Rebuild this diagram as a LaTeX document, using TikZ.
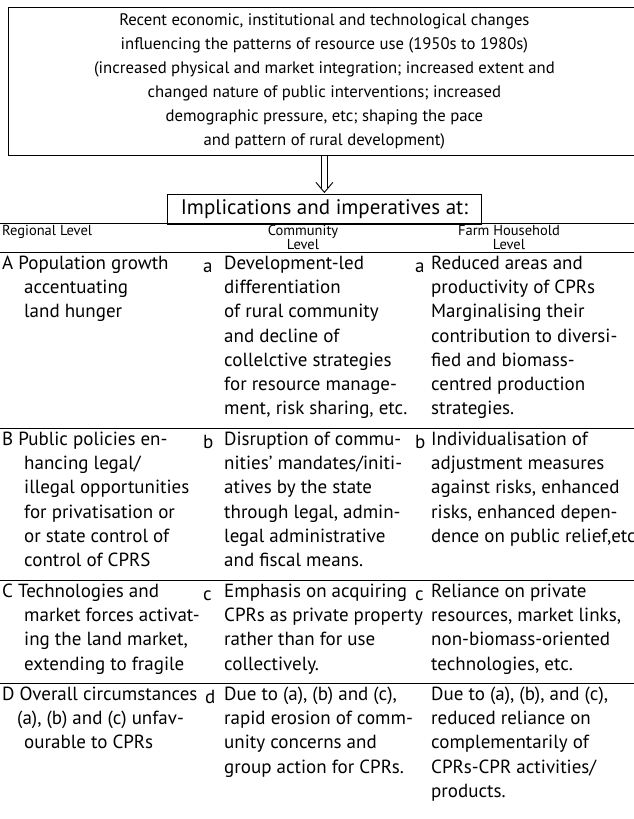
\documentclass[tikz,border=0pt]{standalone}
\usepackage{fontspec}
\setmainfont{PT Sans}
\usetikzlibrary{arrows.meta,positioning}
\newcommand\cellind{\hspace*{22pt}}

\begin{document}
\begin{tikzpicture}[x=1pt, y=-1pt, every node/.style={inner sep=0pt}, cell/.style={anchor=north west,align=left,font=\fontsize{19pt}{24.3pt}\selectfont,execute at begin node=\strut}, tag/.style={cell}, head/.style={anchor=north,align=center,font=\fontsize{14.5pt}{14pt}\selectfont}, frame/.style={draw,line width=0.8pt}, rule/.style={line width=0.8pt}, dbl/.style={double,double distance=4.5pt,line width=0.9pt}]
\useasboundingbox (0,0) rectangle (634,819);
\node[frame,anchor=north west,minimum width=632,minimum height=148,align=center,font=\fontsize{16.7pt}{24pt}\selectfont] (causes) at (8,7) {Recent economic, institutional and technological changes\\influencing the patterns of resource use (1950s to 1980s)\\(increased physical and market integration; increased extent and\\changed nature of public interventions; increased\\demographic pressure, etc; shaping the pace\\and pattern of rural development)};
\node[frame,minimum width=314,minimum height=30,font=\fontsize{21pt}{24pt}\selectfont,below=38pt of causes] (impl) {Implications and imperatives at:};
% double arrow down
\coordinate (tip) at ([yshift=1.5pt]impl.north);
\draw[dbl] (causes) -- ([yshift=4pt]tip);
\draw[line width=0.9pt] ([shift={(-8.5pt,10pt)}]tip) -- (tip) -- ([shift={(8.5pt,10pt)}]tip);
% rules of the table
\foreach \y in {223,252,428,580,683}
  \draw[rule] (0,\y) -- (634,\y);
% column heads
\node[head,anchor=north west] (reg) at (2,225) {Regional Level};
\node[head] (comm) at (303,225) {Community\\Level};
\node[head] (farm) at (509,225) {Farm Household\\Level};
% regional level
\node[cell] (regA) at (2,255.5) {A Population growth\\\cellind accentuating\\\cellind land hunger};
\node[cell] (regB) at (2,431.5) {B Public policies en-\\\cellind hancing legal/\\\cellind illegal opportunities\\\cellind for privatisation or\\\cellind or state control of\\\cellind control of CPRS};
\node[cell] (regC) at (2,583.5) {C Technologies and\\\cellind market forces activat-\\\cellind ing the land market,\\\cellind extending to fragile};
\node[cell] (regD) at (2,686.5) {D Overall circumstances\\\hspace*{15pt}(a), (b) and (c) unfav-\\\cellind ourable to CPRs};
% item letters
\foreach \t/\y in {a/255.5,b/431.5,c/583.5}{
  \node[tag] (comm\t) at (203,\y) {\t};
  \node[tag] (farm\t) at (415,\y) {\t};
}
\node[tag] (commd) at (205,686.5) {d};
% community level
\node[cell] (comA) at (224,255.5) {Development-led\\differentiation\\of rural community\\and decline of\\collelctive strategies\\for resource manage-\\ment, risk sharing, etc.};
\node[cell] (comB) at (224,431.5) {Disruption of commu-\\nities' mandates/initi-\\atives by the state\\through legal, admin-\\legal administrative\\and fiscal means.};
\node[cell] (comC) at (224,583.5) {Emphasis on acquiring\\CPRs as private property\\rather than for use\\collectively.};
\node[cell] (comD) at (224,686.5) {Due to (a), (b) and (c),\\rapid erosion of comm-\\unity concerns and\\group action for CPRs.};
% farm household level
\node[cell] (hhA) at (431,255.5) {Reduced areas and\\productivity of CPRs\\Marginalising their\\contribution to diversi-\\fied and biomass-\\centred production\\strategies.};
\node[cell] (hhB) at (431,431.5) {Individualisation of\\adjustment measures\\against risks, enhanced\\risks, enhanced depen-\\dence on public relief,etc};
\node[cell] (hhC) at (431,583.5) {Reliance on private\\resources, market links,\\non-biomass-oriented\\technologies, etc.};
\node[cell] (hhD) at (431,686.5) {Due to (a), (b), and (c),\\reduced reliance on\\complementarily of\\CPRs-CPR activities/\\products.};
\end{tikzpicture}
\end{document}
